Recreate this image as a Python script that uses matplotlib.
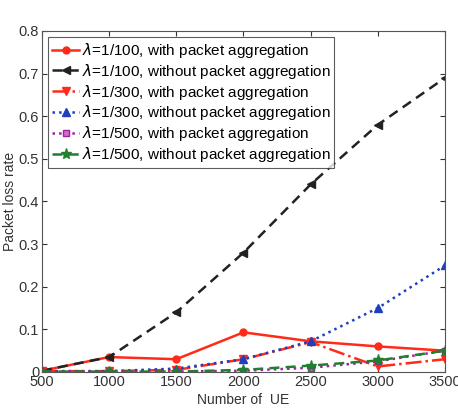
import matplotlib
matplotlib.use("Agg")
import matplotlib.pyplot as plt

plt.rcParams['font.family'] = ['Liberation Sans', 'DejaVu Sans']

ue = [500, 1000, 1500, 2000, 2500, 3000, 3500]
l100_with = [0.003, 0.035, 0.030, 0.093, 0.072, 0.060, 0.050]
l100_without = [0.003, 0.035, 0.140, 0.280, 0.440, 0.580, 0.690]
l300_with = [0.002, 0.002, 0.005, 0.030, 0.070, 0.013, 0.030]
l300_without = [0.002, 0.002, 0.008, 0.030, 0.072, 0.150, 0.250]
l500_with = [0.001, 0.001, 0.001, 0.003, 0.010, 0.025, 0.050]
l500_without = [0.001, 0.001, 0.001, 0.005, 0.015, 0.027, 0.050]

labels = [r"$\lambda$=1/100, with packet aggregation",
          r"$\lambda$=1/100, without packet aggregation",
          r"$\lambda$=1/300, with packet aggregation",
          r"$\lambda$=1/300, without packet aggregation",
          r"$\lambda$=1/500, with packet aggregation",
          r"$\lambda$=1/500, without packet aggregation"]

fig = plt.figure(figsize=(4.58, 4.12), dpi=100)
ax = fig.add_axes([0.0917, 0.0971, 0.8799, 0.8277])

ax.plot(ue, l100_with, color='#ff2a1a', ls='-', lw=1.8, marker='o', ms=5, label=labels[0])
ax.plot(ue, l100_without, color='#222222', ls=(0, (4, 2.5)), lw=1.8, marker='<', ms=6, label=labels[1])
ax.plot(ue, l300_with, color='#ff2a1a', ls='-.', lw=1.8, marker='v', ms=6, label=labels[2])
ax.plot(ue, l300_without, color='#1f3fbf', ls=':', lw=1.8, marker='^', ms=6, label=labels[3])
ax.plot(ue, l500_with, color='#a020a0', ls=':', lw=1.8, marker='s', ms=4.5, mfc='#d070d0', label=labels[4])
ax.plot(ue, l500_without, color='#1f8030', ls=(0, (4, 2.5)), lw=1.8, marker='*', ms=8, label=labels[5])

ax.set_xlim(500, 3500)
ax.set_ylim(0, 0.8)
ax.set_xticks(ue)
ax.set_xticklabels([str(v) for v in ue])
ax.set_yticks([0, 0.1, 0.2, 0.3, 0.4, 0.5, 0.6, 0.7, 0.8])
ax.set_yticklabels(['0', '0.1', '0.2', '0.3', '0.4', '0.5', '0.6', '0.7', '0.8'])
ax.tick_params(direction='in', top=True, right=True, labelsize=10.5, colors='#333333', pad=2)
for s in ax.spines.values():
    s.set_color('#555555')
ax.set_xlabel('Number of  UE', fontsize=10, color='#333333', labelpad=3)
ax.set_ylabel('Packet loss rate', fontsize=10, color='#333333', labelpad=1)

leg = ax.legend(loc='upper left', fontsize=11, frameon=True, fancybox=False,
                edgecolor='#333333', handlelength=1.8, handletextpad=0.15,
                borderpad=0.25, labelspacing=0.12, borderaxespad=0.4)
leg.get_frame().set_linewidth(0.8)

fig.savefig('out.png', dpi=100)
